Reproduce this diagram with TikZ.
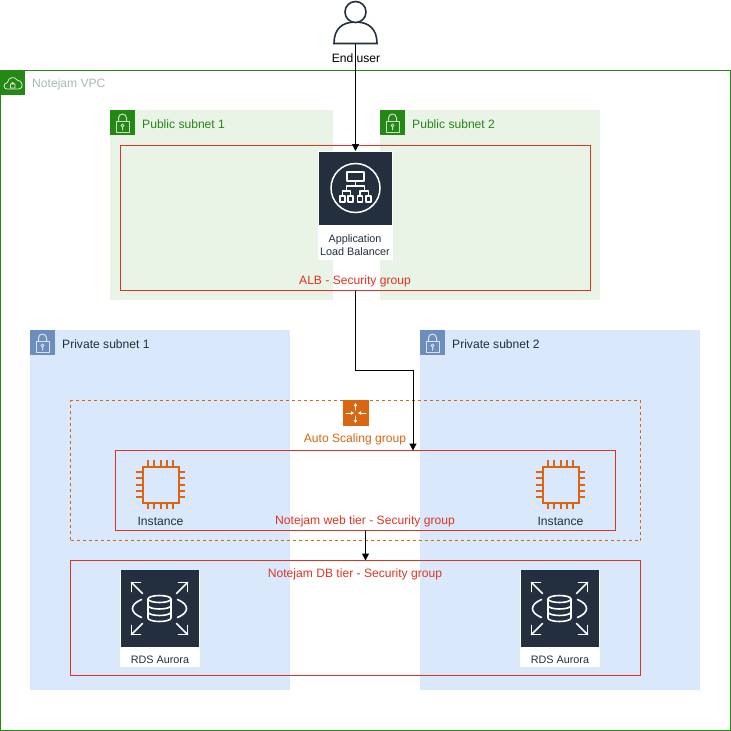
\documentclass[tikz,border=0pt]{standalone}
\usepackage{fontspec}
\setmainfont{Liberation Sans}
\usetikzlibrary{arrows.meta}
\definecolor{vpc}{HTML}{248814}
\definecolor{pubfill}{HTML}{E9F3E6}
\definecolor{pubicon}{HTML}{248814}
\definecolor{pubtext}{HTML}{248814}
\definecolor{privfill}{HTML}{DAE8FC}
\definecolor{privicon}{HTML}{6C8EBF}
\definecolor{privtext}{HTML}{232F3E}
\definecolor{sgred}{HTML}{DD3522}
\definecolor{asg}{HTML}{D86613}
\definecolor{navy}{HTML}{232F3E}
\definecolor{vpctext}{HTML}{AAB7B8}
\tikzset{
  lbl/.style={font=\fontsize{12.1}{14}\selectfont, inner sep=0pt},
  small/.style={font=\fontsize{10.8}{12}\selectfont, inner sep=0pt, text=navy},
  area/.style={anchor=north west, inner sep=0pt, outer sep=0pt},
  sgbox/.style={area, draw=sgred, line width=1pt},
  link/.style={black, line width=1pt, -{Triangle[length=7pt,width=7pt]}},
  tile/.style={area, minimum width=25pt, minimum height=25pt},
  glyph/.style={white, line width=1pt, line cap=round, line join=round},
  tick/.style={glyph, -{Triangle[length=3pt,width=3.5pt]}}
}
% padlock drawn on a subnet tile, #1 = left, #2 = top
\newcommand{\lock}[2]{%
  \draw[glyph, opacity=0.75] (#1+6,#2+11) rectangle (#1+19,#2+22);
  \draw[glyph, opacity=0.75] (#1+8.5,#2+11) -- (#1+8.5,#2+8) arc[start angle=180,end angle=360,radius=4] -- (#1+16.5,#2+11);
  \draw[glyph, opacity=0.75] (#1+12.5,#2+15.5) circle (1.5) (#1+12.5,#2+17) -- (#1+12.5,#2+20);}
% #1 = name, #2 = left, #3 = top, #4 = width, #5 = height, #6 = pub or priv, #7 = label
\newcommand{\subnet}[7]{%
  \node[area, fill=#6fill, minimum width=#4pt, minimum height=#5pt] (#1) at (#2,#3) {};
  \node[tile, fill=#6icon] (#1icon) at (#2,#3) {};
  \lock{#2}{#3}
  \node[lbl, anchor=west, text=#6text] (#1label) at (#2+32,#3+13.7) {#7};}
\newcommand{\chipicon}[3]{% name, centre x, centre y
  \node[inner sep=0pt, minimum size=36pt, draw=asg, line width=2pt] (#1) at (#2,#3) {};
  \foreach \d in {-12.6,-6.3,0,6.3,12.6}{
    \draw[asg, line width=2pt] (#2+\d,#3-24.5) -- (#2+\d,#3-18.5);
    \draw[asg, line width=2pt] (#2+\d,#3+18.5) -- (#2+\d,#3+24.5);
    \draw[asg, line width=2pt] (#2-24.5,#3+\d) -- (#2-18.5,#3+\d);
    \draw[asg, line width=2pt] (#2+18.5,#3+\d) -- (#2+24.5,#3+\d);}}
\newcommand{\rdsicon}[3]{% name, left, top
  \node[area, fill=white, minimum width=80pt, minimum height=97pt] (#1box) at (#2,#3) {};
  \node[area, fill=navy, minimum width=78pt, minimum height=77pt] (#1) at (#2+1,#3) {};
  \begin{scope}[shift={(#2+39.5,#3+38.5)}]
    \draw[glyph, line width=1.6pt] (-11.5,-9.5) -- (-11.5,9.5) arc[x radius=11.5,y radius=3.5,start angle=180,end angle=0] -- (11.5,-9.5);
    \draw[glyph, line width=1.6pt] (0,-9.5) ellipse[x radius=11.5,y radius=3.5];
    \draw[glyph, line width=1.6pt] (-11.5,-3) arc[x radius=11.5,y radius=3.5,start angle=180,end angle=0];
    \draw[glyph, line width=1.6pt] (-11.5,3.5) arc[x radius=11.5,y radius=3.5,start angle=180,end angle=0];
    \draw[glyph, line width=1.6pt] (-18,-9) .. controls (-30,-4) and (-30,4) .. (-18,9);
    \draw[glyph, line width=1.6pt] (18,-9) .. controls (30,-4) and (30,4) .. (18,9);
    \foreach \sx/\sy in {-1/-1,1/-1,-1/1,1/1}{
      \draw[glyph, line width=1.6pt] (\sx*17,\sy*15) -- (\sx*28,\sy*26);
      \draw[glyph, line width=1.6pt] (\sx*28,\sy*17) -- (\sx*28,\sy*26) -- (\sx*19,\sy*26);}
  \end{scope}
  \node[small] (#1label) at (#2+40,#3+89.5) {RDS Aurora};}

\begin{document}
\begin{tikzpicture}[x=1pt,y=-1pt]
  \useasboundingbox (0,0) rectangle (731,731);
  % vpc
  \node[area, draw=vpc, line width=1pt, minimum width=730pt, minimum height=660pt] (vpcbox) at (0.5,70.5) {};
  \node[tile, fill=vpc] (vpcicon) at (0,70) {};
  \draw[glyph, line width=0.8pt, opacity=0.85] (7,89) .. controls (3,89) and (3,83) .. (7.5,82.5) .. controls (8,77) and (15,76) .. (17,80) .. controls (23,80) and (24,89) .. (19,89) -- cycle;
  \draw[glyph, line width=0.8pt, opacity=0.85] (10.5,84) rectangle (15,88) (11.2,84) arc[start angle=180,end angle=360,radius=1.5];
  \node[lbl, anchor=west, text=vpctext] (vpclabel) at (32,84.5) {Notejam VPC};
  % subnets
  \subnet{pubone}{110}{110}{223}{190}{pub}{Public subnet 1}
  \subnet{pubtwo}{380}{110}{220}{190}{pub}{Public subnet 2}
  \subnet{privone}{30}{330}{260}{360}{priv}{Private subnet 1}
  \subnet{privtwo}{420}{330}{280}{360}{priv}{Private subnet 2}
  % security groups
  \node[sgbox, minimum width=470pt, minimum height=145pt] (albsg) at (120.5,145.5) {};
  \node[area, draw=asg, dashed, line width=1pt, minimum width=570pt, minimum height=140pt] (asgbox) at (70.5,400.5) {};
  \node[sgbox, minimum width=500pt, minimum height=80pt] (websg) at (115.5,450.5) {};
  \node[sgbox, minimum width=570pt, minimum height=115pt] (dbsg) at (70.5,560.5) {};
  \node[lbl, text=sgred] (albsglabel) at (355,281.7) {ALB - Security group};
  \node[lbl, text=asg] (asglabel) at (355,439.7) {Auto Scaling group};
  \node[lbl, text=sgred] (websglabel) at (365,521.5) {Notejam web tier - Security group};
  \node[lbl, text=sgred] (dbsglabel) at (355,574.5) {Notejam DB tier - Security group};
  % user
  \node[inner sep=0pt, minimum size=44pt] (user) at (355.5,22) {};
  \draw[navy, line width=1.6pt, fill=white] (334,43.5) .. controls (334,29) and (342,22) .. (355.5,22) .. controls (369,22) and (377,29) .. (377,43.5) -- cycle;
  \draw[navy, line width=1.6pt, fill=white] (355.5,12) circle (10.5);
  \node[lbl] (userlabel) at (356,58) {End user};
  % alb
  \node[area, fill=white, minimum width=75pt, minimum height=109pt] (albbox) at (318,151) {};
  \node[area, fill=navy, minimum width=73pt, minimum height=73pt] (alb) at (319,151.5) {};
  \draw[glyph, line width=1.5pt] (355.5,188) circle (24.5);
  \draw[glyph, line width=1.3pt] (347,172) rectangle (364,181);
  \draw[glyph, line width=1.3pt] (355.5,181) -- (355.5,186) (346.5,191) -- (346.5,186) -- (364.5,186) -- (364.5,191);
  \draw[glyph, line width=1.3pt] (342.5,196) -- (342.5,191) -- (350.5,191) -- (350.5,196) (360,196) -- (360,191) -- (368.5,191) -- (368.5,196);
  \foreach \x in {342.5,350.5,360,368.5}{
    \draw[glyph, line width=1.3pt] (\x-2.5,196) rectangle (\x+2.5,202);}
  \node[small] (alblabelone) at (355,239.7) {Application};
  \node[small] (alblabeltwo) at (355,251.7) {Load Balancer};
  % autoscaling
  \node[area, fill=asg, minimum width=26pt, minimum height=26pt] (asgicon) at (343,400) {};
  \draw[tick] (355.5,410) -- (355.5,403);
  \draw[tick] (355.5,416) -- (355.5,423);
  \draw[tick] (346,413) -- (354,413);
  \draw[tick] (366,413) -- (358,413);
  % instances
  \chipicon{instone}{160.5}{484.5}
  \chipicon{insttwo}{560.5}{484.5}
  \node[lbl, text=navy] (instonelabel) at (160.5,521.5) {Instance};
  \node[lbl, text=navy] (insttwolabel) at (560.5,521.5) {Instance};
  % databases
  \rdsicon{rdsone}{120}{570}
  \rdsicon{rdstwo}{520}{570}
  % links
  \draw[link] (user.south) -- (albbox.north -| user.south);
  \draw[link] (albsg.south -| user.south) -- (355.5,370.5) -- (413,370.5) -- (websg.north -| 413,0);
  \draw[link] (websg.south -| 365.5,0) -- (dbsg.north -| 365.5,0);
\end{tikzpicture}
\end{document}
